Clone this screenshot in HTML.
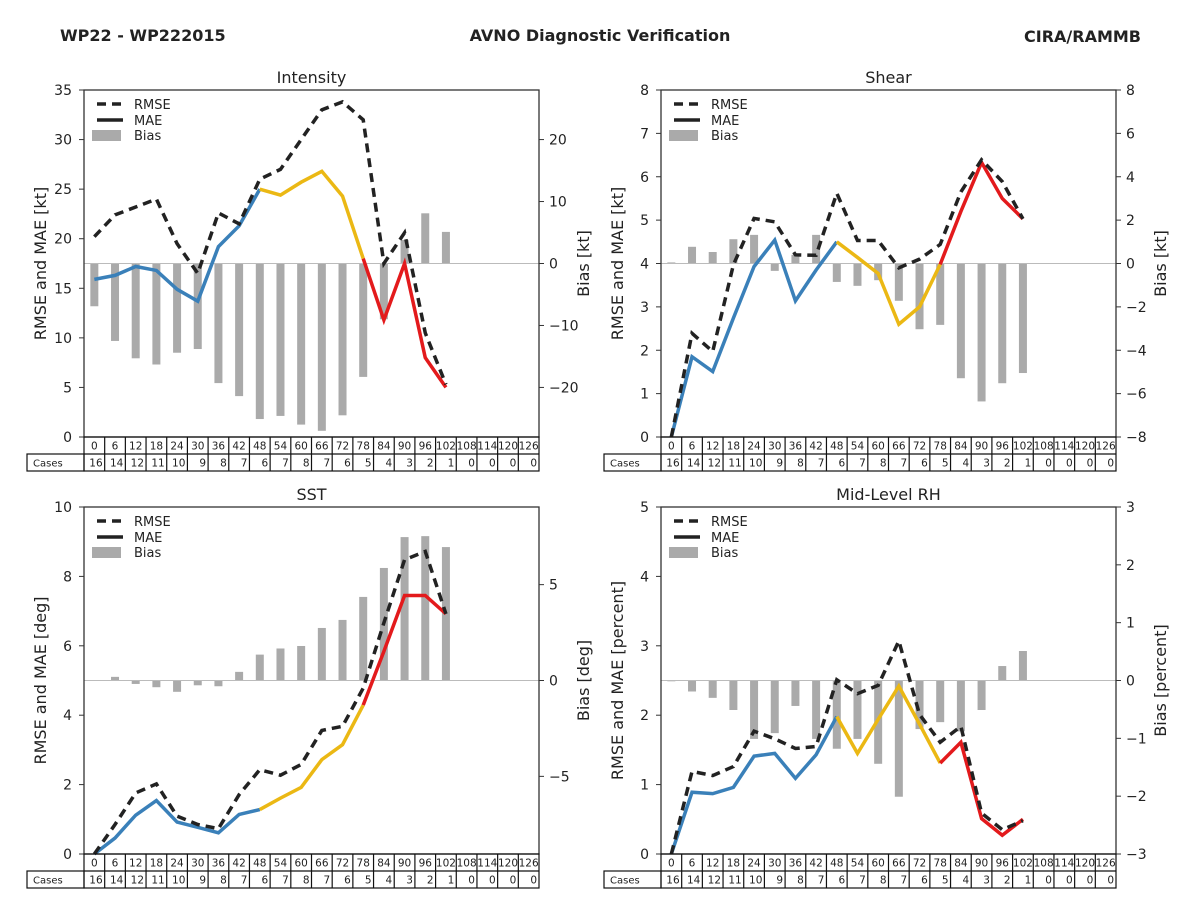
<!DOCTYPE html>
<html><head><meta charset="utf-8"><style>
body{margin:0;background:#fff;}
svg{display:block;font-family:"DejaVu Sans","Liberation Sans",sans-serif;}
</style></head><body>
<svg id="chart" width="1200" height="900" viewBox="0 0 1200 900" xmlns="http://www.w3.org/2000/svg">
<text x="60" y="41" font-size="16" font-weight="bold" fill="#222">WP22 - WP222015</text>
<text x="600" y="41" font-size="16" font-weight="bold" fill="#222" text-anchor="middle">AVNO Diagnostic Verification</text>
<text x="1141" y="42" font-size="16" font-weight="bold" fill="#222" text-anchor="end">CIRA/RAMMB</text>
</svg>
<script>
const leads=[0,6,12,18,24,30,36,42,48,54,60,66,72,78,84,90,96,102,108,114,120,126];
const cases=[16,14,12,11,10,9,8,7,6,7,8,7,6,5,4,3,2,1,0,0,0,0];
const intRmse=[20.2,22.4,23.2,24.0,19.5,16.5,22.6,21.5,26.0,27.0,30.0,33.0,33.8,32.0,17.5,20.6,10.5,5.3];
const intMae=[15.9,16.3,17.2,16.8,14.9,13.7,19.2,21.3,25.0,24.4,25.7,26.8,24.3,18.0,11.8,17.5,8.0,5.0];
const intBias=[-6.9,-12.5,-15.3,-16.3,-14.4,-13.8,-19.3,-21.4,-25.1,-24.6,-26,-27,-24.5,-18.3,-9,3.8,8.1,5.1];
const shRmse=[0,2.39,1.97,3.97,5.04,4.96,4.2,4.19,5.62,4.53,4.53,3.9,4.1,4.44,5.65,6.39,5.89,5.03];
const shMae=[0,1.85,1.51,2.74,3.93,4.54,3.14,3.85,4.5,4.14,3.77,2.6,3.0,3.98,5.2,6.33,5.5,5.03];
const shBias=[0.05,0.77,0.53,1.12,1.32,-0.34,0.4,1.32,-0.85,-1.03,-0.77,-1.72,-3.03,-2.83,-5.29,-6.36,-5.52,-5.05];
const sstRmse=[0,0.85,1.76,2.02,1.09,0.85,0.73,1.71,2.43,2.27,2.58,3.56,3.68,4.78,6.66,8.48,8.72,6.92];
const sstMae=[0,0.46,1.12,1.54,0.92,0.77,0.61,1.14,1.28,1.61,1.92,2.72,3.15,4.29,5.84,7.45,7.45,6.92];
const sstBias=[0.02,0.19,-0.18,-0.35,-0.59,-0.25,-0.3,0.45,1.35,1.67,1.8,2.74,3.16,4.36,5.87,7.48,7.53,6.96];
const rhRmse=[0,1.19,1.13,1.26,1.77,1.66,1.52,1.55,2.51,2.31,2.43,3.07,2.01,1.61,1.84,0.59,0.35,0.48];
const rhMae=[0,0.89,0.87,0.96,1.41,1.45,1.09,1.43,1.98,1.45,1.94,2.42,1.87,1.31,1.61,0.51,0.27,0.5];
const rhBias=[0,-0.19,-0.3,-0.51,-1.01,-0.91,-0.44,-1.01,-1.18,-1.01,-1.44,-2.01,-0.84,-0.72,-0.88,-0.51,0.25,0.51];

const NS="http://www.w3.org/2000/svg";
const svg=document.getElementById('chart');
function mk(tag,attrs,parent,text){const e=document.createElementNS(NS,tag);for(const k in attrs)e.setAttribute(k,attrs[k]);if(text!==undefined)e.textContent=text;(parent||svg).appendChild(e);return e;}

const panels=[
 {key:'intensity',title:'Intensity',x0:84,y0:90,lmax:35,lticks:[0,5,10,15,20,25,30,35],rmax:28,rticks:[20,10,0,-10,-20],ylab:'RMSE and MAE [kt]',rlab:'Bias [kt]',rmse:intRmse,mae:intMae,bias:intBias},
 {key:'shear',title:'Shear',x0:661,y0:90,lmax:8,lticks:[0,1,2,3,4,5,6,7,8],rmax:8,rticks:[8,6,4,2,0,-2,-4,-6,-8],ylab:'RMSE and MAE [kt]',rlab:'Bias [kt]',rmse:shRmse,mae:shMae,bias:shBias},
 {key:'sst',title:'SST',x0:84,y0:507,lmax:10,lticks:[0,2,4,6,8,10],rmax:9.05,rticks:[5,0,-5],ylab:'RMSE and MAE [deg]',rlab:'Bias [deg]',rmse:sstRmse,mae:sstMae,bias:sstBias},
 {key:'rh',title:'Mid-Level RH',x0:661,y0:507,lmax:5,lticks:[0,1,2,3,4,5],rmax:3,rticks:[3,2,1,0,-1,-2,-3],ylab:'RMSE and MAE [percent]',rlab:'Bias [percent]',rmse:rhRmse,mae:rhMae,bias:rhBias}
];
const W=455,H=347,CW=W/22;
function fmt(v){return v<0?'\u2212'+(-v):String(v);}
panels.forEach(p=>{
 const g=mk('g',{});
 
 
 const xs=i=>p.x0+(i+0.5)*CW;
 const yl=v=>p.y0+H-v/p.lmax*H;
 const yr=v=>p.y0+H/2-v/p.rmax*(H/2);
 const t=mk('text',{x:p.x0+W/2,y:p.y0-7,'font-size':16,'text-anchor':'middle',fill:'#222'},g,p.title);
 
 // bias bars
 p.bias.forEach((v,i)=>{const y=yr(v),z=yr(0);
  const r=mk('rect',{x:xs(i)-4,y:Math.min(y,z),width:8,height:Math.max(Math.abs(y-z),0.8),fill:'#aaaaaa'},g);
  });
 mk('line',{x1:p.x0,x2:p.x0+W,y1:yr(0),y2:yr(0),stroke:'#bbb','stroke-width':1},g);
 // mae colored segments
 const segs=[[0,8,'#3a80b9'],[8,13,'#ebb814'],[13,17,'#e31a1c']];
 segs.forEach(s=>{let pts=[];for(let i=s[0];i<=s[1]&&i<p.mae.length;i++)pts.push(xs(i)+','+yl(p.mae[i]));
  const l=mk('polyline',{points:pts.join(' '),fill:'none',stroke:s[2],'stroke-width':3.5,'stroke-linejoin':'miter'},g);
  });
 const rp=p.rmse.map((v,i)=>xs(i)+','+yl(v)).join(' ');
 const rl=mk('polyline',{points:rp,fill:'none',stroke:'#222','stroke-width':3.5,'stroke-dasharray':'9,6'},g);
 
 // frame
 mk('rect',{x:p.x0,y:p.y0,width:W,height:H,fill:'none',stroke:'#333','stroke-width':1.3},g);
 p.lticks.forEach(v=>{const y=yl(v);mk('line',{x1:p.x0-5,x2:p.x0,y1:y,y2:y,stroke:'#333'},g);
  mk('text',{x:p.x0-12,y:y+5,'font-size':14,'text-anchor':'end',fill:'#222'},g,String(v));});
 p.rticks.forEach(v=>{const y=yr(v);mk('line',{x1:p.x0+W,x2:p.x0+W+5,y1:y,y2:y,stroke:'#333'},g);
  mk('text',{x:p.x0+W+10,y:y+5,'font-size':14,fill:'#222'},g,fmt(v));});
 const yt=mk('text',{x:0,y:0,'font-size':16,'text-anchor':'middle',fill:'#222',transform:`translate(${p.x0-38},${p.y0+H/2}) rotate(-90)`},g,p.ylab);
 
 const rt=mk('text',{x:0,y:0,'font-size':16,'text-anchor':'middle',fill:'#222',transform:`translate(${p.x0+W+50},${p.y0+H/2}) rotate(-90)`},g,p.rlab);
 
 // legend
 const lg=mk('g',{},g);
 
 const lx=p.x0+11,ly=p.y0+14;
 mk('line',{x1:lx+2,x2:lx+28,y1:ly,y2:ly,stroke:'#222','stroke-width':3.5,'stroke-dasharray':'9,6'},lg);
 mk('text',{x:lx+39,y:ly+5,'font-size':13,fill:'#222'},lg,'RMSE');
 mk('line',{x1:lx+2,x2:lx+28,y1:ly+16,y2:ly+16,stroke:'#222','stroke-width':3.5},lg);
 mk('text',{x:lx+39,y:ly+21,'font-size':13,fill:'#222'},lg,'MAE');
 mk('rect',{x:lx-3,y:ly+26,width:29,height:11,fill:'#aaa'},lg);
 mk('text',{x:lx+39,y:ly+36,'font-size':13,fill:'#222'},lg,'Bias');
 // table
 const tb=mk('g',{},g);
 
 const ty=p.y0+H;
 mk('rect',{x:p.x0,y:ty,width:W,height:34,fill:'none',stroke:'#111','stroke-width':1.2},tb);
 mk('line',{x1:p.x0,x2:p.x0+W,y1:ty+17,y2:ty+17,stroke:'#111','stroke-width':1.2},tb);
 mk('rect',{x:p.x0-57,y:ty+17,width:57,height:17,fill:'none',stroke:'#111','stroke-width':1.2},tb);
 mk('text',{x:p.x0-51,y:ty+29.5,'font-size':10,fill:'#222'},tb,'Cases');
 leads.forEach((L,i)=>{const cx=p.x0+i*CW;
  if(i>0)mk('line',{x1:cx,x2:cx,y1:ty,y2:ty+34,stroke:'#111','stroke-width':1.2},tb);
  mk('text',{x:cx+CW/2,y:ty+12.5,'font-size':10.5,'text-anchor':'middle',fill:'#222'},tb,String(L));
  mk('text',{x:cx+CW-2,y:ty+29.5,'font-size':10.5,'text-anchor':'end',fill:'#222'},tb,String(cases[i]));});
});
</script>
</body></html>
